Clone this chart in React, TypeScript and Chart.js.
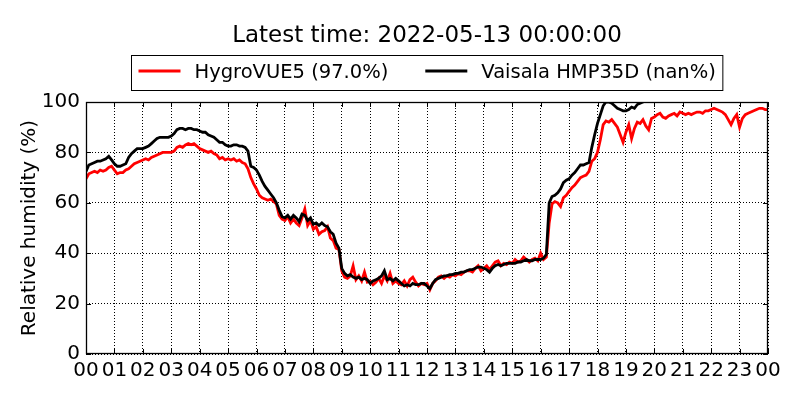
import { useEffect, useRef } from 'react';
import { Chart, registerables } from 'chart.js';

Chart.register(...registerables);

// one reading every 6 minutes, starting at 00:00
const SAMPLE_HOURS = 0.1;

const TITLE = 'Latest time: 2022-05-13 00:00:00';
const Y_LABEL = 'Relative humidity (%)';
const HYGROVUE_LABEL = 'HygroVUE5 (97.0%)';
const HMP35D_LABEL = 'Vaisala HMP35D (nan%)';

// HygroVUE5 relative humidity, one row per hour
const hygroVue = [
  69.5, 71.5, 72, 72.5, 72, 73, 72.5, 73, 74, 74.5,
  73, 71.5, 72, 72, 73, 73.5, 74.5, 75.5, 76, 76.5,
  77, 77.5, 77, 78, 78.5, 79, 79.5, 80, 80, 80,
  80, 80.5, 82, 82.5, 82, 83, 83.5, 83, 83.5, 82.5,
  81.5, 81, 80.5, 80, 80.5, 79.5, 79, 77.5, 78, 77,
  77.5, 77, 77.5, 76.5, 77, 76, 75.5, 73.5, 70, 67.5,
  65.5, 63, 62, 61.5, 61, 61.5, 60.5, 59.5, 55, 53.5,
  53, 54.5, 52, 53.5, 52, 51, 54, 57.5, 51, 53,
  49.5, 50.5, 47.5, 48.5, 49, 50.5, 46, 45, 42, 41.5,
  33, 30.5, 30, 31, 35, 29.5, 31, 29, 32.5, 28.5,
  29, 27.5, 28.5, 30, 28, 31, 29, 32, 28, 29,
  28, 27.5, 29, 27, 29.5, 30.5, 28.5, 27, 28, 27.5,
  28, 25.5, 28, 29, 30.5, 31, 30, 31, 30.5, 31.5,
  31, 32, 31.5, 32.5, 33, 33, 32.5, 34, 35, 33,
  34, 35, 33.5, 35, 36.5, 37, 35, 36, 35.5, 36.5,
  36, 37.5, 36.5, 37, 38.5, 37.5, 36.5, 37.5, 38, 37,
  40, 37.5, 38.5, 52, 59.5, 60.5, 60, 58.5, 62, 63,
  64.5, 66, 67, 68.5, 70, 70.5, 71, 72.5, 76.5, 77.5,
  80, 85, 91, 92.5, 92, 93, 91.5, 90, 87, 84,
  88, 91, 85.5, 89.5, 92, 91.5, 93, 90.5, 89, 93.5,
  94, 95, 95.5, 94, 93.5, 94.5, 95, 95.5, 94.5, 96,
  95.5, 95, 95.5, 95, 95.5, 96, 96, 95.5, 96.5, 96.5,
  97, 97.5, 97, 96.5, 96, 95, 93, 91, 93.5, 95,
  90, 93.5, 95, 95.5, 96, 96.5, 97, 97.5, 97.5, 97,
  97,
];

// Vaisala HMP35D relative humidity, stops reporting shortly before 20:00
const hmp35d = [
  72.5, 75, 75.5, 76, 76.5, 76.5, 77, 77.5, 78.5, 77,
  75.5, 74.5, 74.5, 75, 75.5, 78, 79.5, 80.5, 81.5, 81.5,
  81.5, 82, 82.5, 83.5, 84.5, 85.5, 86, 86, 86, 86,
  86.5, 87.5, 89, 89.5, 89.5, 89, 89.5, 89.5, 89, 89,
  88.5, 88, 88, 87, 86.5, 86, 85, 84, 84, 83,
  82.5, 82.5, 83, 83, 82.5, 82.5, 82, 80.5, 74.5, 74,
  73, 71, 68.5, 66.5, 65, 63.5, 62, 60, 57, 54.5,
  54, 55, 53.5, 55, 54, 52.5, 55.5, 55, 53, 54,
  51.5, 52, 51, 52, 51, 50.5, 48.5, 47.5, 44, 42,
  34, 32, 31, 31.5, 30.5, 30, 30.5, 29.5, 30, 29.5,
  28, 29, 29.5, 30, 31, 33, 29.5, 30, 29, 30,
  29, 28, 27, 27.5, 27, 28, 27.5, 27.5, 28, 28,
  27, 26, 28, 29.5, 30, 30.5, 31, 31, 31.5, 31.5,
  32, 32, 32.5, 32.5, 33, 33.5, 33.5, 34, 34.5, 34.5,
  34, 33.5, 32.5, 34, 35, 35.5, 35, 35.5, 36, 36,
  36, 36, 36.5, 36.5, 37, 37.5, 37, 37, 37.5, 37.5,
  37.5, 38, 39.5, 60, 62.5, 63, 64, 65.5, 68, 69,
  69.5, 71, 72, 73.5, 75, 75, 75.5, 76, 82, 87,
  91.5, 95, 98.5, 100, 100, 99.5, 98.5, 97.5, 97, 96.5,
  96.5, 97, 98, 97.5, 99, 99.5, 100, 100.5, 101, 101.5,
];

const FONT = 'DejaVu Sans';

const toPoints = (values: number[]) =>
  values.map((v, i) => ({ x: i * SAMPLE_HOURS, y: v }));

// matplotlib-ish decorations: frame, inward ticks, title, framed legend, y label
const mplDecor = {
  id: 'mplDecor',
  afterDraw(chart: Chart) {
    const { ctx, chartArea } = chart;
    const { left, right, top, bottom } = chartArea;
    const xs = chart.scales.x;
    const ys = chart.scales.y;
    ctx.save();

    ctx.strokeStyle = '#000';
    ctx.lineWidth = 1;
    ctx.beginPath();
    xs.ticks.forEach((t) => {
      const px = Math.round(xs.getPixelForValue(t.value)) + 0.5;
      ctx.moveTo(px, bottom);
      ctx.lineTo(px, bottom - 5);
      ctx.moveTo(px, top);
      ctx.lineTo(px, top + 5);
    });
    ys.ticks.forEach((t) => {
      const py = Math.round(ys.getPixelForValue(t.value)) + 0.5;
      ctx.moveTo(left, py);
      ctx.lineTo(left + 5, py);
      ctx.moveTo(right, py);
      ctx.lineTo(right - 5, py);
    });
    ctx.stroke();

    ctx.lineWidth = 1.3;
    ctx.strokeRect(
      Math.round(left) + 0.5,
      Math.round(top) + 0.5,
      Math.round(right - left) - 1,
      Math.round(bottom - top) - 1
    );

    const cx = (left + right) / 2;
    ctx.fillStyle = '#000';
    ctx.textAlign = 'center';
    ctx.textBaseline = 'alphabetic';
    ctx.font = `23px ${FONT}`;
    ctx.fillText(TITLE, cx, 42);

    // legend
    ctx.font = `19.5px ${FONT}`;
    const items = [
      { label: HYGROVUE_LABEL, color: '#ff0000' },
      { label: HMP35D_LABEL, color: '#000000' },
    ];
    const handle = 42;
    const gap = 14;
    const spacing = 37;
    const pad = 7;
    const widths = items.map((it) => ctx.measureText(it.label).width);
    const boxW =
      pad * 2 +
      widths.reduce((s, w) => s + w + handle + gap, 0) +
      spacing * (items.length - 1);
    const boxL = Math.round(cx - boxW / 2) + 0.5;
    ctx.fillStyle = '#fff';
    ctx.fillRect(boxL, 55.5, boxW, 35);
    ctx.lineWidth = 1;
    ctx.strokeStyle = '#000';
    ctx.strokeRect(boxL, 55.5, boxW, 35);

    let x = boxL + pad;
    ctx.textAlign = 'left';
    items.forEach((it, i) => {
      ctx.strokeStyle = it.color;
      ctx.lineWidth = 2.8;
      ctx.beginPath();
      ctx.moveTo(x, 71);
      ctx.lineTo(x + handle, 71);
      ctx.stroke();
      ctx.fillStyle = '#000';
      ctx.fillText(it.label, x + handle + gap, 78);
      x += handle + gap + widths[i] + spacing;
    });

    // y axis title
    ctx.font = `20px ${FONT}`;
    ctx.translate(30, (top + bottom) / 2);
    ctx.rotate(-Math.PI / 2);
    ctx.textAlign = 'center';
    ctx.textBaseline = 'middle';
    ctx.fillText(Y_LABEL, 0, 0);

    ctx.restore();
  },
};

export default function App() {
  const canvasRef = useRef<HTMLCanvasElement>(null);

  useEffect(() => {
    if (!canvasRef.current) return;
    const ctx = canvasRef.current.getContext('2d');
    if (!ctx) return;

    Chart.defaults.font.family = FONT;
    Chart.defaults.color = '#000';

    const chart = new Chart(ctx, {
      type: 'line',
      data: {
        datasets: [
          {
            label: HYGROVUE_LABEL,
            data: toPoints(hygroVue),
            borderColor: '#ff0000',
            borderWidth: 2.8,
            pointRadius: 0,
            tension: 0,
            clip: 0,
            order: 2,
          },
          {
            label: HMP35D_LABEL,
            data: toPoints(hmp35d),
            borderColor: '#000000',
            borderWidth: 2.8,
            pointRadius: 0,
            tension: 0,
            clip: 0,
            order: 1,
          },
        ],
      },
      options: {
        responsive: false,
        animation: false,
        layout: { padding: { top: 102, right: 32, left: 0, bottom: 0 } },
        plugins: {
          legend: { display: false },
          title: { display: false },
          tooltip: { enabled: false },
        },
        scales: {
          x: {
            type: 'linear',
            min: 0,
            max: 24,
            afterFit: (scale) => {
              scale.height = 46;
            },
            grid: { color: '#000', lineWidth: 1, drawTicks: false },
            border: { display: false, dash: [1, 2] },
            ticks: {
              stepSize: 1,
              autoSkip: false,
              maxRotation: 0,
              padding: 5,
              font: { size: 20, family: FONT },
              color: '#000',
              callback: (v) => String(Number(v) % 24).padStart(2, '0'),
            },
          },
          y: {
            min: 0,
            max: 100,
            afterFit: (scale) => {
              scale.width = 86;
            },
            grid: { color: '#000', lineWidth: 1, drawTicks: false },
            border: { display: false, dash: [1, 2] },
            ticks: {
              stepSize: 20,
              padding: 6,
              font: { size: 20, family: FONT },
              color: '#000',
            },
          },
        },
      },
      plugins: [mplDecor],
    });

    return () => {
      chart.destroy();
    };
  }, []);

  return (
    <div
      style={{
        position: 'fixed',
        left: 0,
        top: 0,
        width: 800,
        height: 400,
        background: '#fff',
      }}
    >
      <canvas ref={canvasRef} width={800} height={400}></canvas>
    </div>
  );
}
